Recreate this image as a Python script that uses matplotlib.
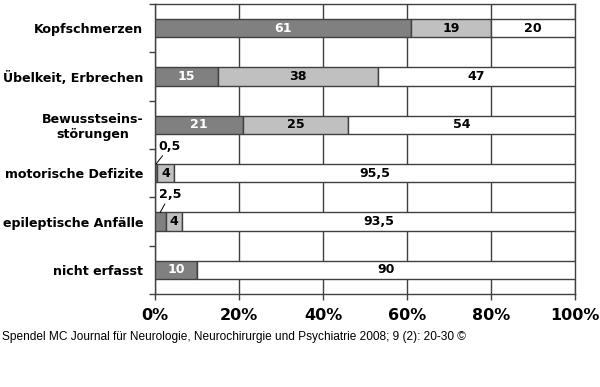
import matplotlib
matplotlib.use("Agg")
import matplotlib.pyplot as plt
import numpy as np

categories = ["Kopfschmerzen", "Übelkeit, Erbrechen", "Bewusstseins-\nstörungen",
              "motorische Defizite", "epileptische Anfälle", "nicht erfasst"]
s1 = [61, 15, 21, 0.5, 2.5, 10]
s2 = [19, 38, 25, 4, 4, 0]
s3 = [20, 47, 54, 95.5, 93.5, 90]
labels1 = ["61", "15", "21", "0,5", "2,5", "10"]
labels2 = ["19", "38", "25", "4", "4", ""]
labels3 = ["20", "47", "54", "95,5", "93,5", "90"]
xticks = [0, 20, 40, 60, 80, 100]
xticklabels = ["0%", "20%", "40%", "60%", "80%", "100%"]

W, H = 600, 387
fig = plt.figure(figsize=(W/100, H/100), dpi=100)
ax = fig.add_axes([155/W, 1-294/H, 420/W, 290/H])

n = len(categories)
y = np.arange(n)
bh = 0.38
edge = "#404040"
c1, c2, c3 = "#808080", "#c0c0c0", "#ffffff"
ax.barh(y, s1, height=bh, color=c1, edgecolor=edge, linewidth=1, zorder=3)
ax.barh(y, s2, left=s1, height=bh, color=c2, edgecolor=edge, linewidth=1, zorder=3)
left3 = np.array(s1) + np.array(s2)
ax.barh(y, s3, left=left3, height=bh, color=c3, edgecolor=edge, linewidth=1, zorder=3)

fs = 9.1
for i in range(n):
    if s1[i] >= 5:
        ax.text(s1[i]/2, y[i], labels1[i], ha="center", va="center", color="white",
                fontweight="bold", fontsize=fs, zorder=5)
    else:
        ax.annotate(labels1[i], xy=(s1[i]/2, y[i]-bh/2), xytext=(0.9, y[i]-0.42),
                    ha="left", va="bottom", fontweight="bold", fontsize=fs,
                    arrowprops=dict(arrowstyle="-", color="black", lw=0.7,
                                    shrinkA=0, shrinkB=0), zorder=5)
    if s2[i] > 0:
        ax.text(s1[i] + s2[i]/2, y[i], labels2[i], ha="center", va="center", color="black",
                fontweight="bold", fontsize=fs, zorder=5)
    ax.text(left3[i] + s3[i]/2, y[i], labels3[i], ha="center", va="center", color="black",
            fontweight="bold", fontsize=fs, zorder=5)

ax.set_xlim(0, 100)
ax.set_ylim(n-0.5, -0.5)
ax.set_xticks(xticks)
ax.set_xticklabels(xticklabels, fontweight="bold", fontsize=11.5)
ax.set_yticks(y)
ax.set_yticklabels(categories, fontweight="bold", fontsize=fs, multialignment="center")
ax.set_yticks(np.arange(n+1)-0.5, minor=True)
ax.tick_params(axis="y", which="major", length=0, pad=8.5)
ax.tick_params(axis="y", which="minor", length=4, width=1, color="#404040", direction="out")
ax.tick_params(axis="x", length=4, width=1, color="#404040", direction="out", pad=6)
ax.grid(axis="x", color="#404040", linewidth=1, zorder=0)
for s in ax.spines.values():
    s.set_color("#404040")
    s.set_linewidth(1)

fig.text(2/W, 1-337/H, "Spendel MC Journal für Neurologie, Neurochirurgie und Psychiatrie 2008; 9 (2): 20-30 ©",
         fontsize=8.6, family="Liberation Sans", va="center", ha="left")

fig.savefig("out.png", dpi=100)
